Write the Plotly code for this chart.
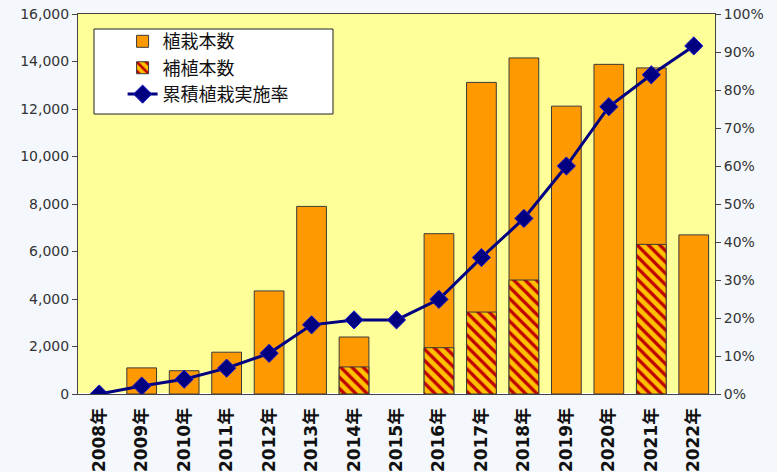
import plotly.graph_objects as go

years = ["2008年", "2009年", "2010年", "2011年", "2012年", "2013年", "2014年", "2015年",
         "2016年", "2017年", "2018年", "2019年", "2020年", "2021年", "2022年"]
planted = [None, 1100, 980, 1760, 4340, 7900, 2400, None, 6750, 13120, 14150, 12120, 13880, 13730, 6700]
replanted = [None, None, None, None, None, None, 1140, None, 1950, 3450, 4800, None, None, 6300, None]
cum_rate = [0.0, 0.021, 0.039, 0.068, 0.107, 0.182, 0.195, 0.195, 0.249, 0.359, 0.462, 0.60, 0.756, 0.84, 0.916]

fig = go.Figure()
fig.add_trace(go.Bar(
    x=years, y=planted, name="植栽本数",
    marker=dict(color="#FF9900", line=dict(color="#3a3a3a", width=1)),
))
fig.add_trace(go.Bar(
    x=years, y=replanted, name="補植本数",
    marker=dict(color="#FFC000", line=dict(color="#3a3a3a", width=1),
                pattern=dict(shape="\\", fgcolor="#C00000", bgcolor="#FFC000",
                             size=8, solidity=0.4, fillmode="replace")),
))
fig.add_trace(go.Scatter(
    x=years, y=cum_rate, name="累積植栽実施率", yaxis="y2", mode="lines+markers",
    line=dict(color="#000080", width=3),
    marker=dict(symbol="diamond", size=14, color="#000080", line=dict(color="#1a1acc", width=1)),
))

# legend frame
fig.add_shape(type="rect", xref="paper", yref="paper",
              x0=0.0251, x1=0.4003, y0=0.7368, y1=0.9605,
              fillcolor="#FFFFFF", line=dict(color="#222222", width=1), layer="above")

tickfont = dict(family="DejaVu Sans", size=14, color="#333333")
fig.update_layout(
    width=777, height=472,
    margin=dict(l=78, r=62, t=14, b=78, autoexpand=False),
    paper_bgcolor="#F4F8FC",
    plot_bgcolor="#FFFF99",
    barmode="overlay",
    bargap=0.3,
    showlegend=True,
    legend=dict(
        x=0.07, y=0.976, xanchor="left", yanchor="top",
        bgcolor="rgba(0,0,0,0)", borderwidth=0,
        font=dict(family="Noto Sans CJK JP", size=18, color="#111111"),
        traceorder="normal",
    ),
    xaxis=dict(
        type="category", tickangle=-90, range=[-0.5, 14.5], automargin=False,
        tickfont=dict(family="DejaVu Sans, Noto Sans CJK JP", size=17, color="#111111", weight="bold"),
        showline=True, linecolor="#444444", linewidth=1, mirror=True,
        ticks="", showgrid=False, ticklabelstandoff=6,
    ),
    yaxis=dict(
        range=[0, 16000], dtick=2000, tickformat=",", automargin=False,
        tickfont=tickfont, showgrid=False,
        showline=True, linecolor="#444444", linewidth=1, mirror=True,
        ticks="outside", ticklen=5, tickcolor="#444444",
    ),
    yaxis2=dict(
        range=[0, 1], dtick=0.1, tickformat=".0%", automargin=False,
        overlaying="y", side="right",
        tickfont=tickfont, showgrid=False,
        showline=True, linecolor="#444444", linewidth=1,
        ticks="outside", ticklen=5, tickcolor="#444444",
    ),
)

fig.write_html("out.html")
